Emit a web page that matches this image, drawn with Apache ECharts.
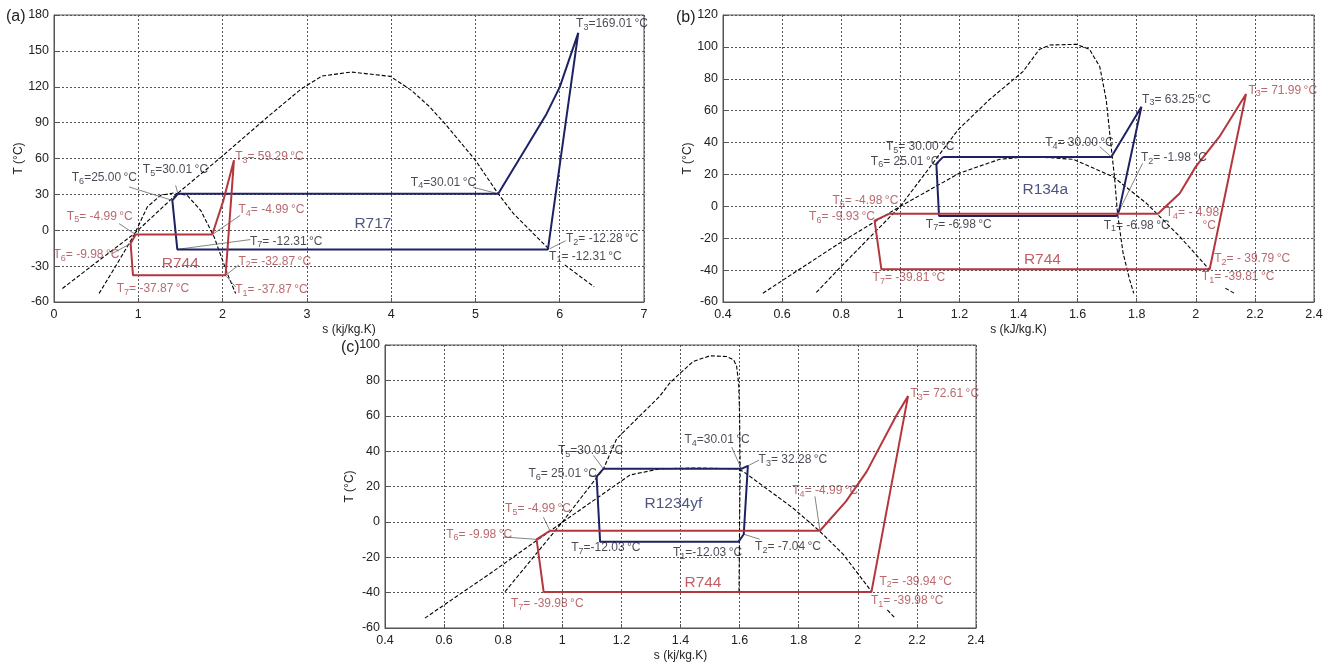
<!DOCTYPE html>
<html><head><meta charset="utf-8">
<script src="https://cdn.jsdelivr.net/npm/echarts@6/dist/echarts.min.js"></script>
<style>html,body{margin:0;padding:0;background:#fff}#c{width:1332px;height:663px}</style>
</head><body><div id="c"></div>
<script>
// ---------- Panel (a): R717 / R744 ----------
const aXTicks = [0, 7, 1];
const aYTicks = [-60, 180, 30];
const aNh3Dome = [[0.1,-48.7],[0.5,-27],[0.95,-3],[1.46,30.5],[1.98,61],[2.53,94.5],[2.93,118],[3.18,129],[3.53,132.3],[3.99,128.7],[4.24,117],[4.46,103],[4.64,89],[5.0,58.5],[5.27,30.5],[5.45,14],[5.69,-3],[5.87,-15.5]];
const aNh3Tail = [[6.06,-29],[6.41,-47.4]];
const aCo2Dome = [[0.534,-52.9],[0.751,-27.8],[0.95,-4],[1.107,19.5],[1.265,29.2],[1.42,31.2],[1.58,29.2],[1.74,16.7],[1.90,-5.6],[2.056,-36.2],[2.155,-52.9]];
const aR717Cycle = [[1.47,30.5],[1.404,25],[1.463,-16],[5.86,-16],[6.22,165],[6.0,119.7],[5.845,97.5],[5.607,69.6],[5.27,30.5],[1.47,30.5]];
const aR744Cycle = [[0.969,-3.6],[0.909,-11.1],[0.937,-37.6],[2.036,-37.6],[2.135,58.5],[2.01,25],[1.878,-3.6],[0.969,-3.6]];
const aNavyLabels = [
  {sub:'3', text:'=169.01 °C', at:[6.2,172]},
  {sub:'5', text:'=30.01 °C', at:[1.06,50], lead:[[1.443,37.6],[1.47,30.5]]},
  {sub:'6', text:'=25.00 °C', at:[0.217,43.2], lead:[[0.89,36.2],[1.404,25]]},
  {sub:'7', text:'= -12.31 °C', at:[2.33,-9.8], lead:[[2.33,-7.8],[1.463,-16]]},
  {sub:'4', text:'=30.01 °C', at:[4.24,39.5], lead:[[4.97,36],[5.27,30.5]]},
  {sub:'2', text:'= -12.28 °C', at:[6.08,-7.8], lead:[[6.07,-8.8],[5.88,-15.5]]},
  {sub:'1', text:'= -12.31 °C', at:[5.88,-22.3]}
];
const aRedLabels = [
  {sub:'3', text:'= 59.29 °C', at:[2.155,60.7]},
  {sub:'4', text:'= -4.99 °C', at:[2.195,16.7], lead:[[2.21,12.5],[1.878,-3.6]]},
  {sub:'5', text:'= -4.99 °C', at:[0.158,11.1], lead:[[0.771,5.6],[0.969,-3.6]]},
  {sub:'6', text:'= -9.98 °C', at:[0.0,-20.9], lead:[[0.69,-19.5],[0.909,-11.1]]},
  {sub:'2', text:'= -32.87 °C', at:[2.195,-26.5], lead:[[2.195,-29],[2.036,-37.6]]},
  {sub:'7', text:'= -37.87 °C', at:[0.75,-49.4]},
  {sub:'1', text:'= -37.87 °C', at:[2.155,-50], lead:[[2.155,-47.4],[2.045,-38.5]]}
];
const aNames = [{text:'R717', at:[3.57,5], color:'navy'},{text:'R744', at:[1.285,-28.4], color:'red'}];

// ---------- Panel (b): R134a / R744 ----------
const bXTicks = [0.4, 2.4, 0.2];
const bYTicks = [-60, 120, 20];
const bCo2Dome = [[0.535,-54.5],[0.794,-23.1],[1.0,0],[1.2,20.8],[1.336,29.5],[1.44,31.3],[1.585,29.5],[1.72,18.6],[1.833,1.9],[1.946,-19],[2.047,-39.9]];
const bCo2Tail = [[2.10,-51.3],[2.13,-54.5]];
const bR134aDome = [[0.716,-54],[0.794,-38.8],[1.0,0],[1.195,47.9],[1.30,66.7],[1.415,84.5],[1.47,98.3],[1.506,101.2],[1.596,101.6],[1.64,98.5],[1.675,87.6],[1.697,66.7],[1.712,40],[1.725,18],[1.735,-4.3],[1.754,-29.4],[1.776,-46],[1.79,-54.5]];
const bR134aCycle = [[1.145,31],[1.122,26.6],[1.131,-6],[1.731,-6],[1.74,-3],[1.816,62.5],[1.714,31],[1.145,31]];
const bR744Cycle = [[0.964,-4.6],[0.913,-9],[0.936,-39.5],[2.047,-39.5],[2.17,70.5],[2.08,43.7],[2.0,24.9],[1.946,8.2],[1.872,-4.6],[0.964,-4.6]];
const bNavyLabels = [
  {sub:'5', text:'= 30.00 °C', at:[0.953,37]},
  {sub:'6', text:'= 25.01 °C', at:[0.902,28]},
  {sub:'7', text:'= -6.98 °C', at:[1.088,-11.7]},
  {sub:'4', text:'= 30.00 °C', at:[1.492,39.6], lead:[[1.675,37.4],[1.714,31]]},
  {sub:'3', text:'= 63.25 °C', at:[1.82,66.7]},
  {sub:'2', text:'= -1.98 °C', at:[1.816,30.2], lead:[[1.82,27],[1.74,-3]]},
  {sub:'1', text:'= -6.98 °C', at:[1.69,-12.3]}
];
const bRedLabels = [
  {sub:'5', text:'= -4.98 °C', at:[0.772,3]},
  {sub:'6', text:'= -9.93 °C', at:[0.693,-6.8]},
  {sub:'7', text:'= -39.81 °C', at:[0.908,-45.1]},
  {sub:'4', text:'= - 4.98', at:[1.90,-4.3]},
  {sub:'', text:'°C', at:[2.024,-12.3]},
  {sub:'3', text:'= 71.99 °C', at:[2.18,72.5]},
  {sub:'2', text:'= - 39.79 °C', at:[2.064,-33.2]},
  {sub:'1', text:'= -39.81 °C', at:[2.022,-44.5]}
];
const bNames = [{text:'R134a', at:[1.415,10.3], color:'navy'},{text:'R744', at:[1.42,-33.6], color:'red'}];

// ---------- Panel (c): R1234yf / R744 ----------
const cXTicks = [0.4, 2.4, 0.2];
const cYTicks = [-60, 100, 20];
const cCo2Dome = [[0.535,-54.4],[0.755,-29.3],[0.998,-0.5],[1.229,26.5],[1.33,30],[1.45,30.5],[1.59,30],[1.613,28.4],[1.78,7.9],[1.87,-5.1],[1.95,-18.2],[2.047,-39.5]];
const cCo2Tail = [[2.10,-49.8],[2.126,-54.4]];
const cHfoDome = [[0.806,-39.5],[0.998,-0.5],[1.14,30.2],[1.184,47],[1.33,71.1],[1.364,78.6],[1.40,84.2],[1.443,90.7],[1.50,93.9],[1.556,93.5],[1.58,91.6],[1.59,87.9],[1.597,78],[1.60,60],[1.602,30],[1.60,0],[1.598,-40.5]];
const cHfoCycle = [[1.139,30],[1.116,25.6],[1.128,-11.3],[1.596,-11.3],[1.614,-7],[1.628,31.7],[1.606,30],[1.139,30]];
const cR744Cycle = [[0.958,-5],[0.913,-9.9],[0.937,-39.7],[2.046,-39.7],[2.17,71.1],[2.13,60],[2.03,28.4],[1.96,11.6],[1.872,-5],[0.958,-5]];
const cNavyLabels = [
  {sub:'5', text:'=30.01 °C', at:[0.987,39.7], lead:[[1.105,37.6],[1.139,30]]},
  {sub:'6', text:'= 25.01 °C', at:[0.887,27], lead:[[1.09,26.2],[1.116,25.6]]},
  {sub:'7', text:'=-12.03 °C', at:[1.032,-15]},
  {sub:'4', text:'=30.01 °C', at:[1.415,46], lead:[[1.573,42.3],[1.606,30]]},
  {sub:'3', text:'= 32.28 °C', at:[1.666,34.9], lead:[[1.666,34.9],[1.628,31.7]]},
  {sub:'1', text:'=-12.03 °C', at:[1.376,-17.8]},
  {sub:'2', text:'= -7.04 °C', at:[1.654,-14.4], lead:[[1.668,-9.8],[1.614,-7]]}
];
const cRedLabels = [
  {sub:'5', text:'= -4.99 °C', at:[0.808,7], lead:[[0.936,2.7],[0.958,-5]]},
  {sub:'6', text:'= -9.98 °C', at:[0.609,-7.4], lead:[[0.80,-8.5],[0.913,-9.9]]},
  {sub:'7', text:'= -39.98 °C', at:[0.828,-46.5]},
  {sub:'4', text:'= -4.99 °C', at:[1.78,17.2], lead:[[1.855,14.4],[1.872,-5]]},
  {sub:'3', text:'= 72.61 °C', at:[2.18,72.1]},
  {sub:'2', text:'= -39.94 °C', at:[2.075,-34]},
  {sub:'1', text:'= -39.98 °C', at:[2.046,-45.1]}
];
const cNames = [{text:'R1234yf', at:[1.28,9.7], color:'navy'},{text:'R744', at:[1.415,-34.9], color:'red'}];

// ---------- styling ----------
const NAVY = '#1d2263', RED = '#b3373d', NAVYTXT = '#1c1c2a', REDTXT = '#a8434a';
const FONT = '"Liberation Sans", Arial, sans-serif';

const grids = [
  {left:54, top:15, width:590, height:287},
  {left:723, top:15, width:591, height:287},
  {left:385, top:345, width:591, height:287}
];
const xNames = ['s (kj/kg.K)', 's (kJ/kg.K)', 's (kj/kg.K)'];
const xTicks = [aXTicks, bXTicks, cXTicks];
const yTicks = [aYTicks, bYTicks, cYTicks];

function fmt(v){ return String(Number(v.toFixed(2))); }

const xAxis = xTicks.map((t,i)=>({
  type:'value', gridIndex:i, min:t[0], max:t[1], interval:t[2],
  name:xNames[i], nameLocation:'middle', nameGap:22,
  nameTextStyle:{fontSize:12, color:'#222', fontFamily:FONT},
  axisLine:{onZero:false, lineStyle:{color:'#555'}},
  axisTick:{inside:true, length:4, lineStyle:{color:'#555'}},
  axisLabel:{fontSize:12.5, color:'#222', fontFamily:FONT, margin:6, formatter:fmt},
  splitLine:{show:true, lineStyle:{color:'#555', type:[2,2], width:1}}
}));
const yAxis = yTicks.map((t,i)=>({
  type:'value', gridIndex:i, min:t[0], max:t[1], interval:t[2],
  name:'T (°C)', nameLocation:'middle', nameGap:27, nameRotate:90,
  nameTextStyle:{fontSize:12, color:'#222', fontFamily:FONT},
  axisLine:{onZero:false, lineStyle:{color:'#555'}},
  axisTick:{inside:true, length:4, lineStyle:{color:'#555'}},
  axisLabel:{fontSize:12.5, color:'#222', fontFamily:FONT, margin:5, formatter:fmt},
  splitLine:{show:true, lineStyle:{color:'#555', type:[2,2], width:1}}
}));

const series = [];
function dashed(i, data){
  series.push({type:'line', xAxisIndex:i, yAxisIndex:i, data, symbol:'none', silent:true, z:3,
    lineStyle:{color:'#000', width:1.1, type:[4,2]}});
}
function cycle(i, data, color){
  series.push({type:'line', xAxisIndex:i, yAxisIndex:i, data, symbol:'none', silent:true, z:5,
    lineStyle:{color, width:2}});
}
function labels(i, list, color){
  list.forEach(l=>{
    if(l.lead) series.push({type:'line', xAxisIndex:i, yAxisIndex:i, data:l.lead, symbol:'none', silent:true, z:4,
      lineStyle:{color:'#666', width:0.8}});
  });
  series.push({type:'scatter', xAxisIndex:i, yAxisIndex:i, symbolSize:1, silent:true, z:6,
    itemStyle:{color:'rgba(0,0,0,0)'},
    data:list.map(l=>{
      const txt = l.text.replace(' °C', '\u2009°C');
      return {value:l.at, label:{formatter: l.sub ? '{t|T}{s|'+l.sub+'}{t|'+txt+'}' : '{t|'+txt+'}'}};
    }),
    label:{show:true, position:[0,0], align:'left', verticalAlign:'middle',
      rich:{t:{fontSize:12, color, fontFamily:FONT, lineHeight:14},
            s:{fontSize:9, color, fontFamily:FONT, lineHeight:9, padding:[7,0,0,0]}}}
  });
}
function names(i, list){
  series.push({type:'scatter', xAxisIndex:i, yAxisIndex:i, symbolSize:1, silent:true, z:6,
    itemStyle:{color:'rgba(0,0,0,0)'},
    data:list.map(n=>({value:n.at, label:{formatter:n.text, color: n.color==='navy' ? '#202a60' : RED}})),
    label:{show:true, position:[0,0], align:'left', verticalAlign:'middle', fontSize:15.5, fontFamily:FONT}
  });
}

dashed(0, aNh3Dome); dashed(0, aNh3Tail); dashed(0, aCo2Dome);
cycle(0, aR717Cycle, NAVY); cycle(0, aR744Cycle, RED);
labels(0, aNavyLabels, NAVYTXT); labels(0, aRedLabels, REDTXT); names(0, aNames);

dashed(1, bCo2Dome); dashed(1, bCo2Tail); dashed(1, bR134aDome);
cycle(1, bR134aCycle, NAVY); cycle(1, bR744Cycle, RED);
labels(1, bNavyLabels, NAVYTXT); labels(1, bRedLabels, REDTXT); names(1, bNames);

dashed(2, cCo2Dome); dashed(2, cCo2Tail); dashed(2, cHfoDome);
cycle(2, cHfoCycle, NAVY); cycle(2, cR744Cycle, RED);
labels(2, cNavyLabels, NAVYTXT); labels(2, cRedLabels, REDTXT); names(2, cNames);

const chart = echarts.init(document.getElementById('c'), null, {renderer:'canvas'});
chart.setOption({
  animation:false,
  backgroundColor:'#fff',
  grid: grids.map(g=>Object.assign({show:true, borderColor:'#555', borderWidth:1, backgroundColor:'transparent'}, g)),
  xAxis, yAxis, series,
  graphic:[
    {type:'text', left:6, top:9, style:{text:'(a)', fontSize:16, fill:'#222', fontFamily:FONT}},
    {type:'text', left:676, top:10, style:{text:'(b)', fontSize:16, fill:'#222', fontFamily:FONT}},
    {type:'text', left:341, top:340, style:{text:'(c)', fontSize:16, fill:'#222', fontFamily:FONT}}
  ]
});
</script></body></html>
